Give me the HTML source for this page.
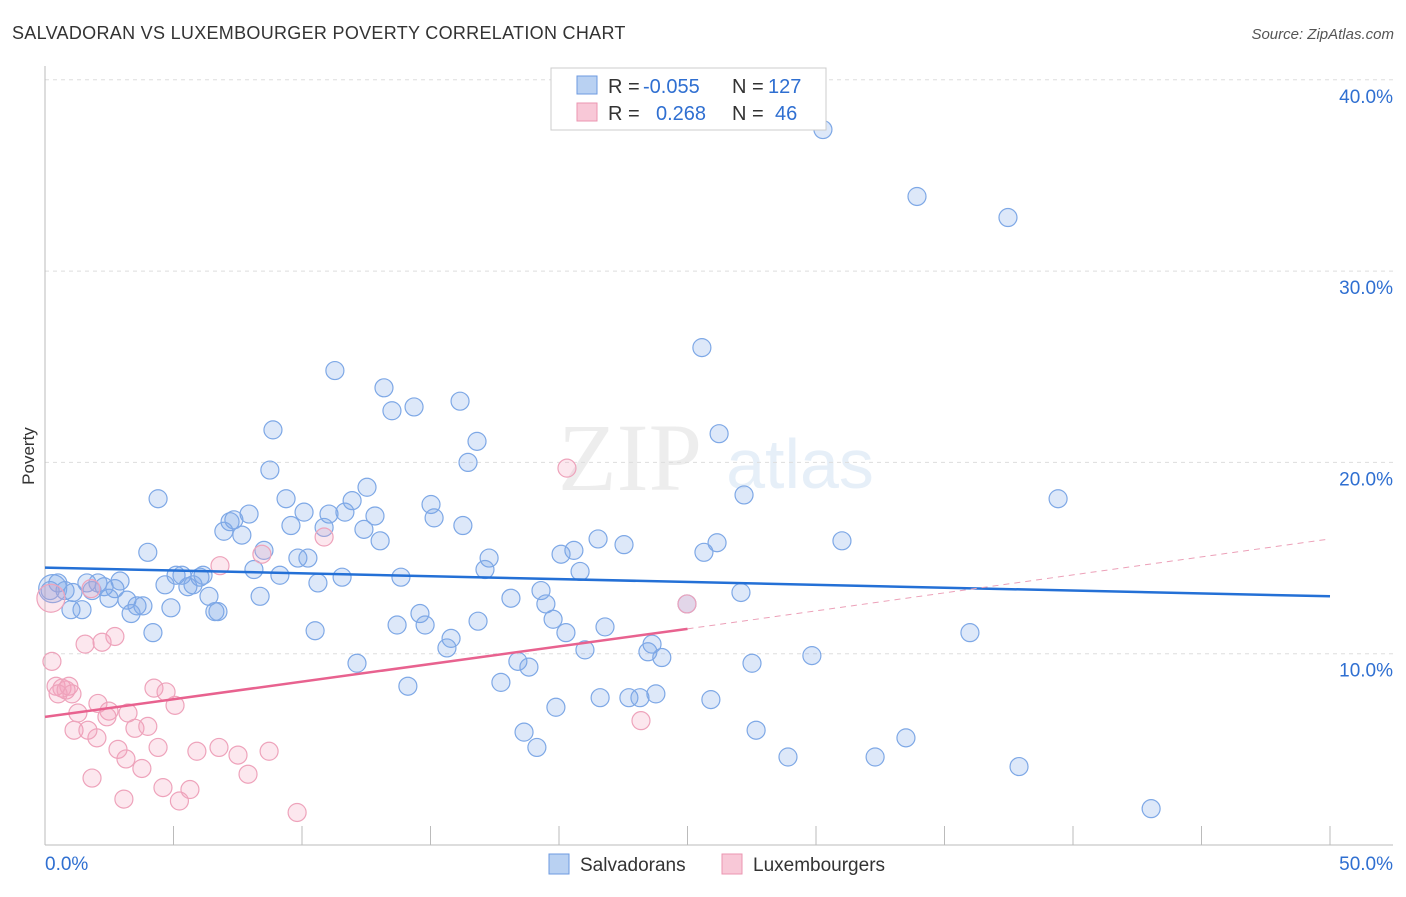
<!DOCTYPE html>
<html><head><meta charset="utf-8"><style>
body{margin:0;background:#fff;font-family:"Liberation Sans",sans-serif}
svg text{font-family:"Liberation Sans",sans-serif}
</style></head><body>
<svg id="chart" width="1406" height="892" viewBox="0 0 1406 892">
<text x="12" y="39" font-size="18" letter-spacing="0.3" fill="#333">SALVADORAN VS LUXEMBOURGER POVERTY CORRELATION CHART</text>
<text x="1394" y="39" font-size="15" fill="#555" font-style="italic" text-anchor="end">Source: ZipAtlas.com</text>
<text x="34" y="456" font-size="17" fill="#333" transform="rotate(-90 34 456)" text-anchor="middle">Poverty</text>
<g opacity="0.5">
<text x="630" y="490" font-size="96" fill="#ddd" text-anchor="middle" style="font-family:'Liberation Serif',serif">ZIP</text>
<text x="800" y="488" font-size="70" fill="#cfe0f3" text-anchor="middle">atlas</text>
</g>
<g id="grid"></g>
<g id="axes"></g>
<g id="pts"></g>
<g id="lines"></g>
<g>
<rect x="551" y="68" width="275" height="62" fill="#fff" stroke="#ccc"/>
<rect x="577" y="76" width="20" height="18" fill="#b9d1f2" stroke="#6d9ae0"/>
<rect x="577" y="103" width="20" height="18" fill="#f8c8d7" stroke="#eb96b1"/>
<text x="608" y="93" font-size="20" fill="#333">R = <tspan fill="#2f6fd1" x="643">-0.055</tspan></text>
<text x="732" y="93" font-size="20" fill="#333">N = <tspan fill="#2f6fd1" x="768">127</tspan></text>
<text x="608" y="120" font-size="20" fill="#333">R = <tspan fill="#2f6fd1" x="656">0.268</tspan></text>
<text x="732" y="120" font-size="20" fill="#333">N = <tspan fill="#2f6fd1" x="775">46</tspan></text>
</g>
<g>
<rect x="549" y="854" width="20" height="20" fill="#b9d1f2" stroke="#6d9ae0"/>
<text x="580" y="871" font-size="19" fill="#333">Salvadorans</text>
<rect x="722" y="854" width="20" height="20" fill="#f8c8d7" stroke="#eb96b1"/>
<text x="753" y="871" font-size="19" fill="#333">Luxembourgers</text>
</g>
</svg>
<script>
const xTicks=[0,50];
const yTicks=[10,20,30,40];
const blueX=[30.27,33.93,37.47,25.56,11.28,13.19,13.5,14.36,16.15,8.87,16.81,16.46,26.23,8.75,4.4,9.38,11.95,12.53,15.02,27.2,39.42,7.94,7.35,7.2,10.08,11.05,11.67,12.84,9.57,10.86,15.14,16.26,6.96,7.66,12.41,13.04,4.0,8.52,9.84,10.23,17.28,21.52,22.53,20.58,20.08,26.15,25.64,31.01,8.13,9.14,11.56,13.85,17.12,20.82,10.62,5.1,5.33,6.03,6.15,4.67,5.56,5.76,0.5,0.78,0.2,1.63,2.06,2.3,2.72,2.92,1.09,1.83,2.49,3.19,3.58,3.81,3.35,1.01,1.44,4.9,6.38,6.61,6.73,8.37,4.2,10.51,19.3,19.49,18.13,19.77,14.59,13.7,14.79,16.85,20.27,21.79,27.08,15.8,15.64,23.62,23.46,24.0,21.01,12.14,18.4,18.83,27.51,29.84,35.99,14.12,17.74,21.6,22.72,23.15,23.77,25.91,19.88,18.64,19.14,27.67,33.5,28.91,32.3,37.9,43.04,24.98,0.3];
const blueY=[37.4,33.9,32.8,26.0,24.8,23.9,22.7,22.9,23.2,21.7,21.1,20.0,21.5,19.6,18.1,18.1,18.0,18.7,17.8,18.3,18.1,17.3,17.0,16.9,17.4,17.3,17.4,17.2,16.7,16.6,17.1,16.7,16.4,16.2,16.5,15.9,15.3,15.4,15.0,15.0,15.0,16.0,15.7,15.4,15.2,15.8,15.3,15.9,14.4,14.1,14.0,14.0,14.4,14.3,13.7,14.1,14.1,14.0,14.1,13.6,13.5,13.6,13.7,13.3,13.3,13.7,13.7,13.5,13.4,13.8,13.2,13.3,12.9,12.8,12.5,12.5,12.1,12.3,12.3,12.4,13.0,12.2,12.2,13.0,11.1,11.2,13.3,12.6,12.9,11.8,12.1,11.5,11.5,11.7,11.1,11.4,13.2,10.8,10.3,10.5,10.1,9.8,10.2,9.5,9.6,9.3,9.5,9.9,11.1,8.3,8.5,7.7,7.7,7.7,7.9,7.6,7.2,5.9,5.1,6.0,5.6,4.6,4.6,4.1,1.9,12.6,13.4];
const pinkX=[20.31,10.86,8.44,6.81,24.98,0.23,1.79,1.56,2.22,2.72,0.27,0.43,0.66,0.82,0.93,0.51,1.05,2.06,4.24,4.71,5.06,2.49,2.41,3.23,1.28,1.13,2.02,1.67,3.5,4.0,2.84,3.15,4.4,3.77,5.91,6.77,7.51,8.72,7.9,1.83,3.07,4.59,5.64,5.23,9.81,23.19];
const pinkY=[19.7,16.1,15.2,14.6,12.6,12.9,13.4,10.5,10.6,10.9,9.6,8.3,8.2,8.1,8.3,7.9,7.9,7.4,8.2,8.0,7.3,7.0,6.7,6.9,6.9,6.0,5.6,6.0,6.1,6.2,5.0,4.5,5.1,4.0,4.9,5.1,4.7,4.9,3.7,3.5,2.4,3.0,2.9,2.3,1.7,6.5];
const blueLine=[14.5,13.0];
const pinkLine=[6.7,11.3,16.0];
const X=v=>45+v*25.7, Y=v=>845-v*19.13;
const NS='http://www.w3.org/2000/svg';
function mk(p,t,a){const e=document.createElementNS(NS,t);for(const k in a)e.setAttribute(k,a[k]);p.appendChild(e);return e;}
const grid=document.getElementById('grid'),axes=document.getElementById('axes'),pts=document.getElementById('pts'),lines=document.getElementById('lines');
yTicks.forEach(v=>{
 const l=mk(grid,'line',{x1:45,x2:1393,y1:Y(v),y2:Y(v),stroke:'#ddd','stroke-dasharray':'4,4'});
 
 
 const t=mk(axes,'text',{x:1393,y:Y(v)+23,'font-size':19,fill:'#2f6fd1','text-anchor':'end'});t.textContent=v.toFixed(1)+'%';
 
 
});
mk(axes,'line',{x1:45,x2:45,y1:66,y2:845,stroke:'#bbb'});
mk(axes,'line',{x1:45,x2:1393,y1:845,y2:845,stroke:'#bbb'});
for(let v=5;v<=50;v+=5){const tk=mk(axes,'line',{x1:X(v),x2:X(v),y1:826,y2:845,stroke:'#bbb'});
 
 }
xTicks.forEach((v,i)=>{const t=mk(axes,'text',{x:i?1393:45,y:870,'font-size':19,fill:'#2f6fd1','text-anchor':i?'end':'start'});t.textContent=v.toFixed(1)+'%';
 
 });
blueX.forEach((x,i)=>{const r=i==blueX.length-1?14:9;const c=mk(pts,'circle',{cx:X(x),cy:Y(blueY[i]),r:r,fill:'rgba(120,165,230,0.25)',stroke:'#7ea8e6','stroke-width':1.2});
 
 });
pinkX.forEach((x,i)=>{const r=i==5?14:9;const c=mk(pts,'circle',{cx:X(x),cy:Y(pinkY[i]),r:r,fill:'rgba(242,160,188,0.25)',stroke:'#eea3bb','stroke-width':1.2});
 
 });
const bl=mk(lines,'line',{x1:X(0),y1:Y(blueLine[0]),x2:X(50),y2:Y(blueLine[1]),stroke:'#2470d6','stroke-width':2.5});


const pl=mk(lines,'line',{x1:X(0),y1:Y(pinkLine[0]),x2:X(25),y2:Y(pinkLine[1]),stroke:'#e8628f','stroke-width':2.5});


const pd=mk(lines,'line',{x1:X(25),y1:Y(pinkLine[1]),x2:X(50),y2:Y(pinkLine[2]),stroke:'#eca0b8','stroke-width':1,'stroke-dasharray':'6,5'});


</script>
</body></html>
